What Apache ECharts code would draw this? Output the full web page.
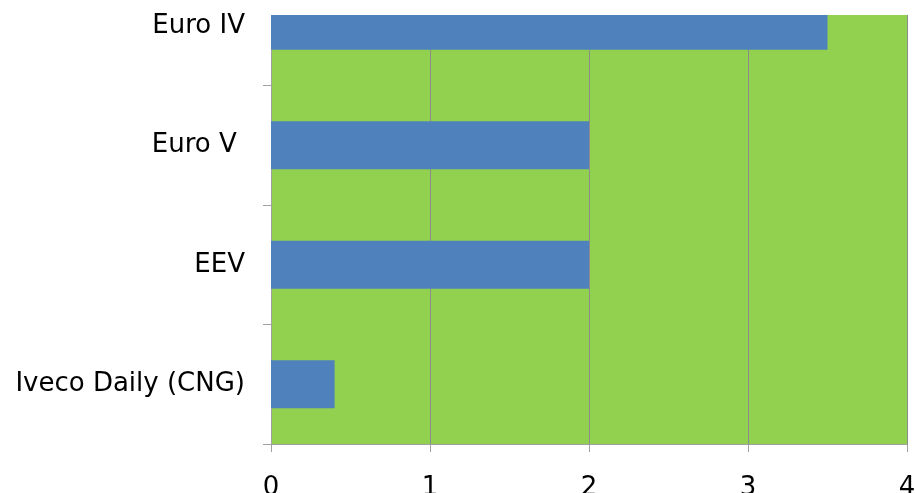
<!DOCTYPE html>
<html>
<head>
<meta charset="utf-8">
<script src="https://cdn.jsdelivr.net/npm/echarts@6/dist/echarts.min.js"></script>
<style>
  html, body { margin: 0; padding: 0; background: #ffffff; }
  #chart { width: 916px; height: 493px; }
</style>
</head>
<body>
<div id="chart"></div>
<script>
// Categories listed bottom to top, as the value axis runs horizontally
const categories = ['Iveco Daily (CNG)', 'EEV', 'Euro V ', 'Euro IV'];
const values = [0.4, 2, 2, 3.5];
const xTicks = [0, 1, 2, 3, 4];

const chart = echarts.init(document.getElementById('chart'), null, { renderer: 'canvas' });

const fontFamily = '"DejaVu Sans", Verdana, sans-serif';

chart.setOption({
  animation: false,
  backgroundColor: '#ffffff',
  grid: {
    left: 271,
    right: 9,
    top: -34,
    bottom: 49,
    outerBoundsMode: 'none',
    containLabel: false,
    show: true,
    backgroundColor: '#92D050',
    borderWidth: 0
  },
  xAxis: {
    type: 'value',
    min: xTicks[0],
    max: xTicks[xTicks.length - 1],
    interval: 1,
    axisLine: { show: true, lineStyle: { color: '#A0A0A0', width: 1 } },
    axisTick: { show: true, length: 8, lineStyle: { color: '#A0A0A0' } },
    axisLabel: { color: '#000000', fontSize: 26, fontFamily: fontFamily, margin: 31 },
    splitLine: { show: true, lineStyle: { color: '#8c8c8c', width: 1 } }
  },
  yAxis: {
    type: 'category',
    data: categories,
    boundaryGap: true,
    axisLine: { show: true, lineStyle: { color: '#A0A0A0', width: 1 } },
    axisTick: { show: true, length: 8, lineStyle: { color: '#A0A0A0' } },
    axisLabel: { color: '#000000', fontSize: 26, fontFamily: fontFamily, margin: 26 },
    splitLine: { show: false }
  },
  series: [{
    type: 'bar',
    data: values,
    barWidth: 48,
    itemStyle: { color: '#4F81BD' },
    silent: true
  }],
  graphic: [{
    type: 'rect',
    left: 255,
    top: 0,
    shape: { width: 661, height: 15 },
    style: { fill: '#ffffff' },
    z: 100
  }]
});
</script>
</body>
</html>
